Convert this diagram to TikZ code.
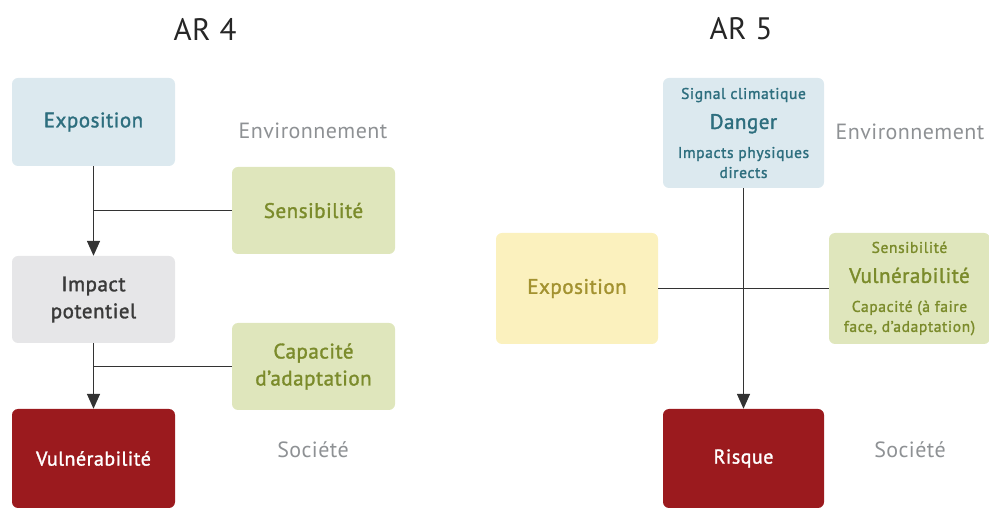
\documentclass[tikz,border=0pt]{standalone}
\usepackage{fontspec}
\setmainfont{PT Sans}[LetterSpace=2]
\newfontfamily\boxfont{PT Sans}[LetterSpace=2.5,FakeBold=1.5]
\newfontfamily\smfont{PT Sans}[LetterSpace=4,FakeBold=1.5]
\usetikzlibrary{arrows.meta}
\definecolor{blueF}{HTML}{DCE9EF}
\definecolor{blueT}{HTML}{2D6E7E}
\definecolor{greenF}{HTML}{DFE6BC}
\definecolor{greenT}{HTML}{7B8B2B}
\definecolor{greyF}{HTML}{E6E6E8}
\definecolor{greyT}{HTML}{3A3A3A}
\definecolor{redF}{HTML}{9B1A1E}
\definecolor{yellowF}{HTML}{FBF1BE}
\definecolor{yellowT}{HTML}{A39230}
\definecolor{labelT}{HTML}{8E9194}
\definecolor{lineC}{HTML}{333333}
\newcommand{\fsm}{\smfont\fontsize{15.5}{20}\selectfont}
\newcommand{\fmd}{\fontsize{20}{25}\selectfont}
\newcommand{\flg}{\boxfont\fontsize{21}{27}\selectfont}
\newcommand{\flbl}{\fontsize{22}{28}\selectfont}
\begin{document}
\begin{tikzpicture}[x=1pt,y=-1pt,
  box/.style={rectangle, rounded corners=6pt, inner sep=0pt, align=center, font=\boxfont\flg},
  lbl/.style={text=labelT, font=\flbl, inner sep=0pt},
  ttl/.style={text=black!85, font=\fontsize{31}{36}\selectfont, inner sep=0pt},
  conn/.style={draw=lineC, line width=1.5pt},
  arr/.style={conn, -{Triangle[length=15pt,width=13pt]}}]
\useasboundingbox (0,0) rectangle (989,510);
% titles
\node[ttl] (t4) at (205,29) {AR 4};
\node[ttl] (t5) at (741,29) {AR 5};
% AR4
\node[box, fill=blueF, text=blueT, minimum width=163pt, minimum height=88pt] (expoL) at (93.5,122) {Exposition};
\node[box, fill=greenF, text=greenT, minimum width=163pt, minimum height=87pt] (sensL) at (313.5,210.5) {Sensibilité};
\node[box, fill=greyF, text=greyT, minimum width=163pt, minimum height=87pt] (impact) at (93.5,299.5) {Impact\\potentiel};
\node[box, fill=greenF, text=greenT, minimum width=163pt, minimum height=87pt] (capL) at (313.5,366.5) {Capacité\\d’adaptation};
\node[box, fill=redF, text=white, minimum width=163pt, minimum height=99pt, font=\boxfont\fmd] (vulnL) at (93.5,458.5) {Vulnérabilité};
\node[lbl] (envL) at (313,131) {Environnement};
\node[lbl] (socL) at (313,450) {Société};
\draw[arr] (expoL.south) -- (impact.north);
\draw[conn] (sensL.west) -- (sensL.west -| expoL.south);
\draw[arr] (impact.south) -- (vulnL.north);
\draw[conn] (capL.west) -- (capL.west -| impact.south);
% AR5
\node[box, fill=blueF, text=blueT, minimum width=161pt, minimum height=110pt] (danger) at (743.5,133)
  {{\fsm Signal climatique}\\[3pt]{\flg Danger}\\[2pt]{\fsm Impacts physiques}\\[-7pt]{\fsm directs}};
\node[box, fill=yellowF, text=yellowT, minimum width=162pt, minimum height=111pt] (expoR) at (577,288.5) {Exposition};
\node[box, fill=greenF, text=greenT, minimum width=161pt, minimum height=111pt] (vulnR) at (909.5,288.5)
  {{\fsm Sensibilité}\\[3pt]{\flg Vulnérabilité}\\[2pt]{\fsm Capacité (à faire}\\[-7pt]{\fsm face, d’adaptation)}};
\node[box, fill=redF, text=white, minimum width=161pt, minimum height=99pt, font=\boxfont\fmd] (risque) at (743.5,458.5) {Risque};
\node[lbl] (envR) at (910,132) {Environnement};
\node[lbl] (socR) at (910,450) {Société};
\draw[arr] (danger.south) -- (risque.north);
\draw[conn] (expoR.east) -- (expoR.east -| vulnR.west);
\end{tikzpicture}
\end{document}
